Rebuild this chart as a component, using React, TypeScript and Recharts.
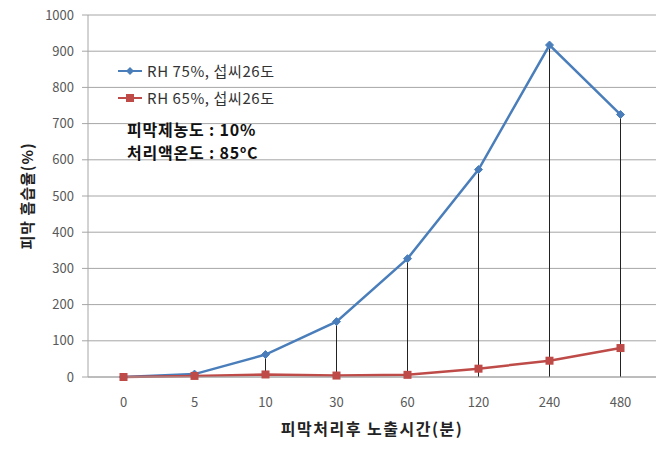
import React from "react";
import {
  ComposedChart,
  Line,
  Bar,
  XAxis,
  YAxis,
  CartesianGrid,
} from "recharts";

const TIMES = ["0", "5", "10", "30", "60", "120", "240", "480"];
const RH75 = [0, 8, 62, 153, 327, 573, 917, 725];
const RH65 = [0, 3, 7, 4, 6, 23, 45, 80];
const Y_TICKS = [0, 100, 200, 300, 400, 500, 600, 700, 800, 900, 1000];

const BLUE = "#4a7ebb";
const RED = "#be4b48";
const FONT = "'Noto Sans CJK KR', 'Noto Sans', sans-serif";

const data = TIMES.map((t, i) => ({ t, rh75: RH75[i], rh65: RH65[i] }));

function Diamond(props: any) {
  const { cx, cy } = props;
  if (cx == null || cy == null) return null;
  return (
    <path
      d={`M${cx},${cy - 4}L${cx + 4},${cy}L${cx},${cy + 4}L${cx - 4},${cy}Z`}
      fill={BLUE}
      stroke={BLUE}
    />
  );
}

function Square(props: any) {
  const { cx, cy } = props;
  if (cx == null || cy == null) return null;
  return <rect x={cx - 4} y={cy - 4} width={8} height={8} fill={RED} />;
}

function LegendBox() {
  const items = [
    { label: "RH 75%, 섭씨26도", color: BLUE, square: false },
    { label: "RH 65%, 섭씨26도", color: RED, square: true },
  ];
  return (
    <div style={{ fontFamily: FONT, fontSize: 15, color: "#333" }}>
      {items.map((it) => (
        <div
          key={it.label}
          style={{ display: "flex", alignItems: "center", height: 27 }}
        >
          <svg width={26} height={12} style={{ marginRight: 3 }}>
            <line x1={0} y1={6} x2={24} y2={6} stroke={it.color} strokeWidth={2} />
            {it.square ? (
              <rect x={8} y={2} width={8} height={8} fill={it.color} />
            ) : (
              <path d="M12,2L16,6L12,10L8,6Z" fill={it.color} />
            )}
          </svg>
          <span style={{ letterSpacing: 0.6 }}>{it.label}</span>
        </div>
      ))}
    </div>
  );
}

export default function App() {
  return (
    <div
      style={{
        position: "fixed",
        left: 0,
        top: 0,
        width: 669,
        height: 452,
        background: "#fff",
      }}
    >
      <ComposedChart
        width={669}
        height={452}
        data={data}
        margin={{ top: 15, right: 13, bottom: 45, left: 40 }}
      >
        <CartesianGrid vertical={false} stroke="#a6a6a6" />
        <XAxis
          dataKey="t"
          height={30}
          stroke="#a6a6a6"
          tickLine={false}
          tickMargin={15}
          tick={{ fill: "#595959", fontSize: 13, fontFamily: FONT }}
          label={{
            value: "피막처리후 노출시간(분)",
            position: "insideBottom",
            offset: -28,
            style: {
              fontFamily: FONT,
              fontSize: 16,
              fontWeight: 700,
              letterSpacing: 1.5,
              fill: "#222",
            },
          }}
        />
        <YAxis
          width={48}
          domain={[0, 1000]}
          ticks={Y_TICKS}
          interval={0}
          stroke="#a6a6a6"
          tickSize={6}
          tickMargin={8}
          tick={{ fill: "#595959", fontSize: 13, fontFamily: FONT }}
          label={{
            value: "피막 흡습율(%)",
            angle: -90,
            position: "insideLeft",
            offset: -12,
            style: {
              fontFamily: FONT,
              fontSize: 15,
              fontWeight: 700,
              letterSpacing: 1,
              fill: "#222",
              textAnchor: "middle",
            },
          }}
        />
        <Bar
          dataKey="rh75"
          barSize={1}
          fill="#222"
          legendType="none"
          isAnimationActive={false}
        />
        <Line
          dataKey="rh75"
          stroke={BLUE}
          strokeWidth={2.5}
          dot={<Diamond />}
          activeDot={false}
          isAnimationActive={false}
        />
        <Line
          dataKey="rh65"
          stroke={RED}
          strokeWidth={2.5}
          dot={<Square />}
          activeDot={false}
          isAnimationActive={false}
        />
      </ComposedChart>
      <div style={{ position: "absolute", left: 118, top: 57 }}>
        <LegendBox />
      </div>
      <div
        style={{
          position: "absolute",
          left: 127,
          top: 118,
          fontFamily: FONT,
          fontSize: 16,
          fontWeight: 700,
          letterSpacing: 0.8,
          color: "#111",
          lineHeight: "23px",
        }}
      >
        <div>피막제농도 : 10%</div>
        <div>
          처리액온도 : 85<sup style={{ fontSize: 10, lineHeight: 0 }}>o</sup>C
        </div>
      </div>
    </div>
  );
}
